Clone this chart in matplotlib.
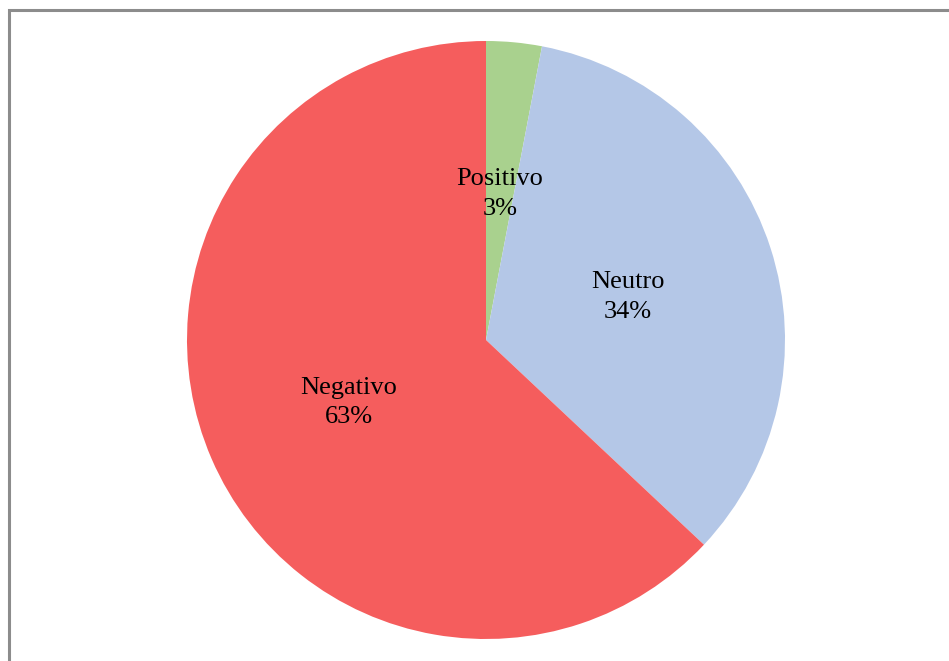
import numpy as np
import matplotlib.pyplot as plt
from matplotlib.patches import Rectangle

categorias = ["Positivo", "Neutro", "Negativo"]
valores = [3, 34, 63]
cores = ["#A9D18E", "#B4C7E7", "#F55D5D"]

W, H = 949, 661
fig = plt.figure(figsize=(W / 100, H / 100), dpi=100)

# moldura cinza do gráfico (só esquerda e topo ficam visíveis)
fig.patches.append(Rectangle((8.5 / W, -0.1), 1.1, 1.1 - 10.5 / H, transform=fig.transFigure,
                             fill=False, edgecolor="#8c8c8c", linewidth=2.2))

cx, cy, r = 486, 340, 299
ax = fig.add_axes([(cx - r) / W, (H - cy - r) / H, 2 * r / W, 2 * r / H])
wedges, _ = ax.pie(valores, colors=cores, startangle=90, counterclock=False,
                   radius=1, wedgeprops=dict(linewidth=0))
ax.set_xlim(-1, 1)
ax.set_ylim(-1, 1)
ax.set_aspect("equal")
ax.axis("off")

total = sum(valores)
for w, nome, v in zip(wedges, categorias, valores):
    ang = np.deg2rad((w.theta1 + w.theta2) / 2)
    ax.text(0.5 * np.cos(ang), 0.5 * np.sin(ang) - 0.01, "%s\n%d%%" % (nome, round(100 * v / total)),
            ha="center", va="center", fontsize=19, family="Liberation Serif",
            linespacing=1.45)

fig.savefig("out.png", dpi=100)
